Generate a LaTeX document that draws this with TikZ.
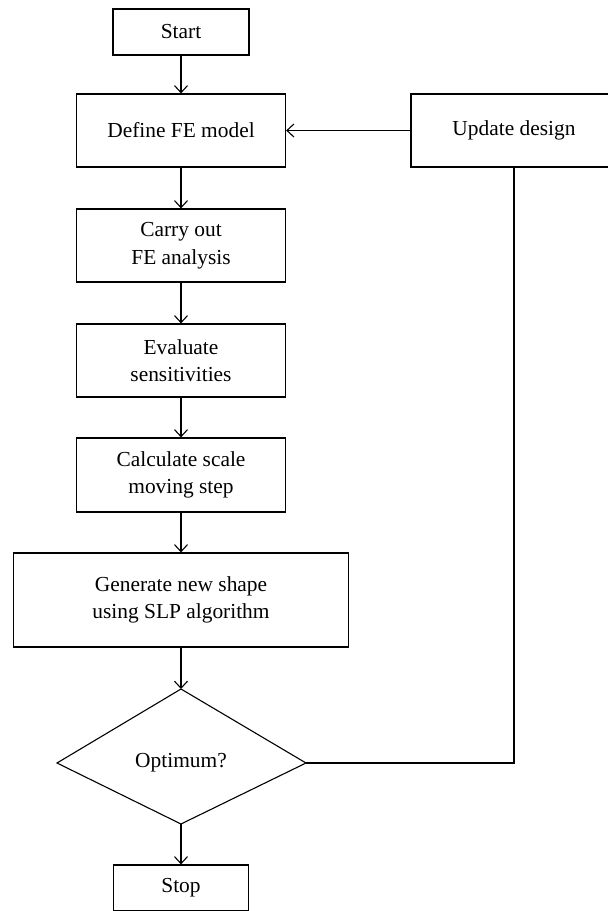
\documentclass[tikz,border=0pt]{standalone}
\usepackage{fontspec}
\setmainfont{Liberation Serif}
\usetikzlibrary{arrows.meta}
\begin{document}
\begin{tikzpicture}[x=1pt,y=-1pt,
  box/.style={draw, line width=1.2pt, inner sep=0pt, align=center, font=\fontsize{21.4}{27.5}\selectfont},
  lbl/.style={inner sep=0pt, align=center, font=\fontsize{21.4}{27.5}\selectfont},
  arr/.style={line width=1.1pt, -{Straight Barb[length=7pt,width=13pt]}},
  ln/.style={line width=1.1pt}]
\useasboundingbox (0,0) rectangle (608,911);
\node[box, minimum width=136pt, minimum height=46pt] (start) at (181,32) {Start};
\node[box, minimum width=209pt, minimum height=73pt] (define) at (181,130.5) {Define FE model};
\node[box, minimum width=206pt, minimum height=73pt] (update) at (514,130.5) {Update design};
\node[box, minimum width=209pt, minimum height=73pt] (carry) at (181,245.5) {Carry out\\FE analysis};
\node[box, minimum width=209pt, minimum height=73pt] (eval) at (181,360.5) {Evaluate\\sensitivities};
\node[box, minimum width=209pt, minimum height=74pt] (calc) at (181,475) {Calculate scale\\moving step};
\node[box, minimum width=335pt, minimum height=94pt] (gen) at (181,600) {Generate new shape\\using SLP algorithm};
\coordinate (dt) at (181,689);
\coordinate (db) at (181,824);
\coordinate (dl) at (57,763);
\coordinate (dr) at (306,763);
\draw[ln, line join=miter] (dt) -- (dr) -- (db) -- (dl) -- cycle;
\node[lbl] (opt) at (181,763) {Optimum?};
\node[box, minimum width=135pt, minimum height=46pt] (stop) at (181,888) {Stop};
\draw[arr] (start) -- (define);
\draw[arr] (define) -- (carry);
\draw[arr] (carry) -- (eval);
\draw[arr] (eval) -- (calc);
\draw[arr] (calc) -- (gen);
\draw[arr] (gen) -- (dt);
\draw[arr] (db) -- (stop);
\draw[ln] (dr) -| (update.south);
\draw[arr] (update) -- (define);
\end{tikzpicture}
\end{document}
